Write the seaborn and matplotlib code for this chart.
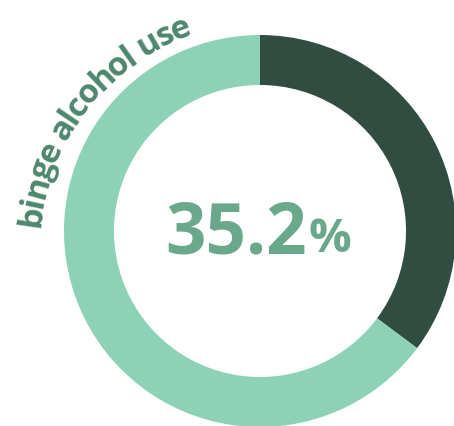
import numpy as np
import matplotlib
matplotlib.use("Agg")
import matplotlib.pyplot as plt
import seaborn as sns
from matplotlib.font_manager import FontProperties, findfont, get_font
from matplotlib.ft2font import Kerning

# Data
categories = ["binge alcohol use", "other"]
shares = [35.2, 64.8]
label = "binge alcohol use"
value_text = "35.2"

# Styling
DARK = "#314d42"
LIGHT = "#8dd2b7"
VALUE_COLOR = "#6aa88c"
LABEL_COLOR = "#4e866e"

sns.set_theme(style="white")
plt.rcParams["font.family"] = ["Open Sans", "DejaVu Sans"]

W, H, DPI = 454, 426, 100
fig = plt.figure(figsize=(W / DPI, H / DPI), dpi=DPI)
ax = fig.add_axes([0, 0, 1, 1])

cx, cy = 260, H - 231
R_OUT, RING = 196, 50

palette = sns.color_palette([DARK, LIGHT])
ax.pie(shares, colors=palette, startangle=90, counterclock=False,
       radius=R_OUT, center=(cx, cy),
       wedgeprops=dict(width=RING, edgecolor="none", linewidth=0))

ax.set_xlim(0, W)
ax.set_ylim(0, H)
ax.set_aspect("equal")
ax.axis("off")

# Central value
ax.text(307, H - 253, value_text, ha="right", va="baseline",
        fontsize=51, fontweight="bold", color=VALUE_COLOR)
ax.text(308, H - 252, "%", ha="left", va="baseline",
        fontsize=34, fontweight="bold", color=VALUE_COLOR)

# Label set along an arc outside the ring
LABEL_PT = 24
TRACKING = 0.9
fp = FontProperties(family="Open Sans", weight="bold", size=LABEL_PT)
font = get_font(findfont(fp))
font.set_size(LABEL_PT, DPI)
adv = []
for i, c in enumerate(label):
    w = font.load_char(ord(c)).linearHoriAdvance / 65536
    if i + 1 < len(label):
        try:
            g1 = font.get_char_index(ord(c))
            g2 = font.get_char_index(ord(label[i + 1]))
            w += font.get_kerning(g1, g2, Kerning.DEFAULT) / 64
        except Exception:
            pass
    adv.append(TRACKING * w)

arc_cx, arc_cy = 268, H - 251
r_text = 230
theta0 = 174.0
pos = 0.0
for ch, a in zip(label, adv):
    s = pos + a / 2
    th = theta0 - np.degrees(s / r_text)
    t = np.radians(th)
    ax.text(arc_cx + r_text * np.cos(t), arc_cy + r_text * np.sin(t), ch,
            rotation=th - 90, rotation_mode="anchor",
            ha="center", va="baseline", fontproperties=fp,
            color=LABEL_COLOR)
    pos += a

fig.savefig("out.png", dpi=DPI)
